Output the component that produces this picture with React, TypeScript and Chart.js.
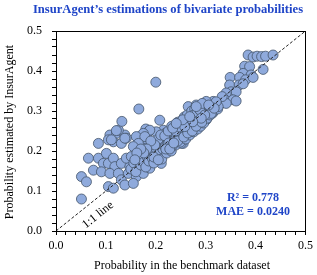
import React, { useEffect, useRef } from "react";
import { Chart, registerables } from "chart.js";

Chart.register(...registerables);

// Over-estimated low-probability group
const lowBenchmark = [0.051, 0.051, 0.061, 0.065, 0.075, 0.085, 0.085, 0.101, 0.095, 0.091, 0.105, 0.115, 0.118, 0.108, 0.125, 0.131, 0.131, 0.105, 0.115, 0.138, 0.145, 0.148, 0.155, 0.141, 0.168, 0.181, 0.168, 0.161, 0.155, 0.175, 0.108, 0.121, 0.138, 0.115, 0.131, 0.141, 0.105, 0.168, 0.181, 0.125, 0.121, 0.132, 0.166, 0.200, 0.180, 0.208, 0.185, 0.175, 0.111, 0.138];
const lowEstimated = [0.080, 0.136, 0.123, 0.182, 0.152, 0.219, 0.182, 0.194, 0.169, 0.148, 0.169, 0.182, 0.161, 0.144, 0.144, 0.169, 0.128, 0.111, 0.107, 0.115, 0.144, 0.161, 0.182, 0.182, 0.186, 0.178, 0.161, 0.136, 0.119, 0.144, 0.240, 0.244, 0.240, 0.223, 0.219, 0.232, 0.228, 0.236, 0.219, 0.252, 0.251, 0.274, 0.305, 0.372, 0.255, 0.277, 0.248, 0.207, 0.228, 0.232];

// Middle band
const midBenchmark = [0.265, 0.281, 0.301, 0.318, 0.255, 0.251, 0.228, 0.215, 0.201, 0.188, 0.175, 0.161, 0.178, 0.165, 0.195, 0.214, 0.235, 0.188, 0.168, 0.151, 0.155, 0.161, 0.188, 0.211, 0.288, 0.301, 0.314, 0.251, 0.235, 0.268, 0.288, 0.301, 0.241, 0.240, 0.255, 0.270, 0.230, 0.220];
const midEstimated = [0.311, 0.315, 0.319, 0.315, 0.219, 0.240, 0.244, 0.252, 0.248, 0.252, 0.244, 0.236, 0.236, 0.219, 0.219, 0.219, 0.232, 0.194, 0.186, 0.186, 0.211, 0.161, 0.157, 0.169, 0.278, 0.286, 0.295, 0.219, 0.236, 0.252, 0.269, 0.278, 0.261, 0.265, 0.280, 0.295, 0.255, 0.245];

// Dense diagonal band
const bandBenchmark = [0.150, 0.156, 0.160, 0.165, 0.170, 0.172, 0.176, 0.180, 0.183, 0.186, 0.190, 0.193, 0.196, 0.198, 0.201, 0.204, 0.206, 0.209, 0.212, 0.214, 0.217, 0.219, 0.222, 0.224, 0.226, 0.229, 0.231, 0.233, 0.236, 0.238, 0.240, 0.242, 0.245, 0.247, 0.249, 0.251, 0.253, 0.256, 0.258, 0.260, 0.262, 0.264, 0.266, 0.268, 0.270, 0.272, 0.274, 0.276, 0.278, 0.280, 0.282, 0.284, 0.286, 0.288, 0.290, 0.292, 0.294, 0.296, 0.298, 0.300, 0.303, 0.306, 0.309, 0.312, 0.316, 0.320, 0.324];
const bandEstimated = [0.155, 0.170, 0.148, 0.175, 0.165, 0.190, 0.172, 0.160, 0.185, 0.175, 0.200, 0.182, 0.170, 0.195, 0.205, 0.188, 0.215, 0.198, 0.180, 0.205, 0.225, 0.210, 0.195, 0.218, 0.232, 0.212, 0.200, 0.225, 0.245, 0.228, 0.215, 0.238, 0.250, 0.232, 0.222, 0.255, 0.240, 0.262, 0.245, 0.230, 0.255, 0.268, 0.250, 0.240, 0.262, 0.275, 0.258, 0.248, 0.270, 0.282, 0.265, 0.255, 0.290, 0.272, 0.262, 0.298, 0.280, 0.270, 0.305, 0.292, 0.282, 0.300, 0.290, 0.308, 0.300, 0.312, 0.305];

// Extra points filling the dense band
const denseBenchmark = [0.205, 0.210, 0.218, 0.225, 0.232, 0.244, 0.250, 0.257, 0.263, 0.272, 0.278, 0.285, 0.292, 0.240, 0.248, 0.260, 0.270, 0.276, 0.283, 0.290, 0.297, 0.304, 0.310, 0.226, 0.234, 0.244, 0.256, 0.264, 0.273, 0.281, 0.292, 0.300, 0.310, 0.198, 0.190, 0.182, 0.176, 0.170, 0.162, 0.158, 0.196, 0.205, 0.220, 0.228, 0.236];
const denseEstimated = [0.230, 0.240, 0.238, 0.250, 0.262, 0.272, 0.270, 0.285, 0.290, 0.300, 0.305, 0.308, 0.310, 0.250, 0.260, 0.275, 0.285, 0.290, 0.298, 0.300, 0.300, 0.310, 0.312, 0.220, 0.215, 0.225, 0.235, 0.245, 0.250, 0.262, 0.272, 0.300, 0.302, 0.215, 0.225, 0.205, 0.195, 0.205, 0.195, 0.178, 0.185, 0.178, 0.205, 0.205, 0.220];

// Upper group
const highBenchmark = [0.385, 0.395, 0.403, 0.412, 0.420, 0.435, 0.415, 0.378, 0.388, 0.375, 0.391, 0.349, 0.368, 0.380, 0.395, 0.348, 0.367, 0.375, 0.351, 0.361, 0.341, 0.338, 0.355, 0.361, 0.331, 0.341, 0.315, 0.301, 0.325, 0.305, 0.295, 0.288, 0.311, 0.298, 0.291, 0.333, 0.321, 0.317, 0.274, 0.258, 0.234, 0.254, 0.241, 0.268, 0.293, 0.281, 0.306];
const highEstimated = [0.440, 0.435, 0.437, 0.436, 0.437, 0.440, 0.404, 0.412, 0.411, 0.394, 0.390, 0.384, 0.384, 0.378, 0.384, 0.365, 0.365, 0.368, 0.348, 0.348, 0.345, 0.329, 0.328, 0.325, 0.319, 0.319, 0.324, 0.324, 0.311, 0.307, 0.315, 0.303, 0.294, 0.290, 0.282, 0.336, 0.323, 0.307, 0.273, 0.261, 0.257, 0.278, 0.269, 0.286, 0.319, 0.311, 0.315];

const axisMin = 0;
const axisMax = 0.5;
const tickStep = 0.02;
const titleText = "InsurAgent\u2019s estimations of bivariate probabilities";
const xTitle = "Probability in the benchmark dataset";
const yTitle = "Probability estimated by InsurAgent";
const statLines = ["R\u00B2 = 0.778", "MAE = 0.0240"];
const diagLabel = "1:1 line";

const SERIF = "'Liberation Serif', 'Times New Roman', serif";
const BLUE = "#1f45c8";

function buildPoints() {
  const pts: { x: number; y: number }[] = [];
  const groups: [number[], number[]][] = [
    [lowBenchmark, lowEstimated],
    [midBenchmark, midEstimated],
    [bandBenchmark, bandEstimated],
    [denseBenchmark, denseEstimated],
    [highBenchmark, highEstimated],
  ];
  groups.forEach(([xs, ys]) => xs.forEach((x, i) => pts.push({ x, y: ys[i] })));
  return pts;
}

const decorPlugin = {
  id: "decor",
  afterDatasetsDraw(chart: any) {
    const { ctx, chartArea, scales } = chart;
    const xs = scales.x, ys = scales.y;
    ctx.save();
    // 1:1 line
    ctx.beginPath();
    ctx.setLineDash([3, 2]);
    ctx.strokeStyle = "#222";
    ctx.lineWidth = 1;
    ctx.moveTo(xs.getPixelForValue(axisMin), ys.getPixelForValue(axisMin));
    ctx.lineTo(xs.getPixelForValue(axisMax), ys.getPixelForValue(axisMax));
    ctx.stroke();
    ctx.setLineDash([]);
    // frame
    ctx.strokeStyle = "#000";
    ctx.lineWidth = 1;
    ctx.strokeRect(chartArea.left + 0.5, chartArea.top + 0.5, chartArea.right - chartArea.left - 0.5, chartArea.bottom - chartArea.top);
    // 1:1 label
    const angle = Math.atan2(
      ys.getPixelForValue(axisMax) - ys.getPixelForValue(axisMin),
      xs.getPixelForValue(axisMax) - xs.getPixelForValue(axisMin)
    );
    ctx.translate(xs.getPixelForValue(0.084), ys.getPixelForValue(0.04));
    ctx.rotate(angle);
    ctx.fillStyle = "#000";
    ctx.font = `12px ${SERIF}`;
    ctx.textAlign = "center";
    ctx.textBaseline = "middle";
    ctx.fillText(diagLabel, 0, 0);
    ctx.restore();

    ctx.save();
    ctx.fillStyle = BLUE;
    ctx.font = `bold 12px ${SERIF}`;
    ctx.textAlign = "center";
    ctx.textBaseline = "middle";
    ctx.fillText(statLines[0], 253, 198);
    ctx.fillText(statLines[1], 253, 212);
    // title
    ctx.font = `bold 12.6px ${SERIF}`;
    ctx.fillText(titleText, 168, 10);
    // axis titles
    ctx.fillStyle = "#000";
    ctx.font = `12px ${SERIF}`;
    ctx.fillText(xTitle, 182, 266);
    ctx.translate(10, 132);
    ctx.rotate(-Math.PI / 2);
    ctx.fillText(yTitle, 0, 0);
    ctx.restore();
  },
};

export default function App() {
  const ref = useRef<HTMLCanvasElement>(null);
  useEffect(() => {
    document.body.style.margin = "0";
    const tickFmt = (value: any) => {
      const v = Math.round(Number(value) * 100);
      return v % 10 === 0 ? (Number(value)).toFixed(1) : "";
    };
    const scaleCommon = {
      type: "linear" as const,
      min: axisMin,
      max: axisMax,
      grid: { display: true, drawOnChartArea: false, drawTicks: true, tickLength: 4, color: "#000", lineWidth: 1 },
      border: { display: true, color: "#000", width: 1 },
    };
    const chart = new Chart(ref.current!, {
      type: "scatter",
      data: {
        datasets: [
          {
            data: buildPoints(),
            backgroundColor: "#8faadc",
            borderColor: "#44546a",
            borderWidth: 0.8,
            pointRadius: 5,
            pointHoverRadius: 5,
          },
        ],
      },
      options: {
        responsive: false,
        animation: false,
        events: [],
        layout: { padding: { top: 31, right: 11, left: 0, bottom: 0 } },
        plugins: { legend: { display: false }, tooltip: { enabled: false }, title: { display: false } },
        scales: {
          x: {
            ...scaleCommon,
            afterFit: (s: any) => { s.height = 44; },
            ticks: { stepSize: tickStep, autoSkip: false, maxRotation: 0, padding: 4, color: "#000", font: { family: SERIF, size: 12 }, callback: tickFmt },
          },
          y: {
            ...scaleCommon,
            afterFit: (s: any) => { s.width = 56; },
            ticks: { stepSize: tickStep, autoSkip: false, padding: 10, color: "#000", font: { family: SERIF, size: 12 }, callback: tickFmt },
          },
        },
      } as any,
      plugins: [decorPlugin],
    });
    return () => chart.destroy();
  }, []);
  return (
    <div style={{ position: "absolute", left: 0, top: 0, width: 317, height: 275 }}>
      <canvas ref={ref} width={317} height={275} style={{ width: 317, height: 275 }} />
    </div>
  );
}
